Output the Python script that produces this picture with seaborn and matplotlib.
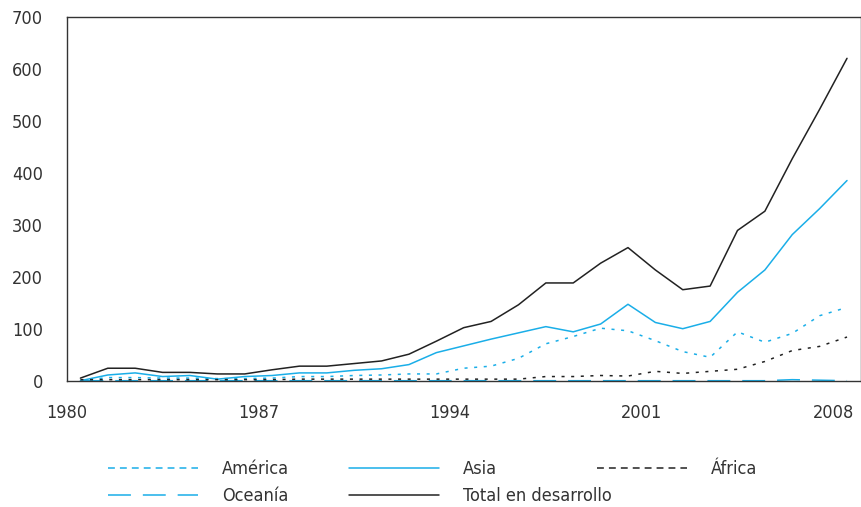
import numpy as np
import pandas as pd
import seaborn as sns
import matplotlib.pyplot as plt
from matplotlib.lines import Line2D

# Datos, años 1980-2008
anios = list(range(1980, 2009))
america = [0, 6, 6, 5, 5, 4, 4, 5, 8, 8, 10, 11, 13, 13, 24, 28, 43, 71, 85, 101, 96, 77, 56, 45, 94, 74, 91, 125, 141]
asia = [0, 11, 15, 8, 10, 3, 8, 10, 15, 15, 20, 23, 31, 54, 67, 80, 92, 104, 94, 109, 147, 112, 100, 114, 170, 213, 281, 331, 385]
africa = [2, 2, 2, 2, 2, 2, 2, 2, 3, 3, 3, 3, 3, 3, 3, 3, 3, 8, 8, 10, 9, 18, 14, 18, 22, 37, 58, 66, 84]
oceania = [0, 0, 0, 0, 0, 0, 0, 0, 0, 0, 0, 0, 0, 0, 0, 0, 0, 0, 0, 0, 0, 0, 0, 0, 0, 0, 2, 1, 0]
total = [5, 24, 24, 16, 16, 13, 13, 21, 28, 28, 33, 38, 51, 76, 102, 114, 146, 188, 188, 226, 256, 213, 175, 182, 289, 326, 427, 522, 620]

df = pd.DataFrame({
    'x': np.array(anios) + 0.5,
    'América': america, 'Oceanía': oceania, 'Asia': asia,
    'Total en desarrollo': total, 'África': africa,
})

azul = '#1aaee8'
negro = '#222222'
punteado = (0, (2.0, 4.3))
guiones = (0, (4.5, 3.3))
# (color, estilo en el gráfico, estilo en la leyenda)
estilos = {
    'América': (azul, punteado, guiones),
    'Oceanía': (azul, (0, (15, 7.8)), (0, (15, 7.8))),
    'Asia': (azul, '-', '-'),
    'Total en desarrollo': (negro, '-', '-'),
    'África': (negro, punteado, guiones),
}

sns.set_style('white')
plt.rcParams['font.family'] = ['DejaVu Sans']
plt.rcParams['font.stretch'] = 'condensed'

fig = plt.figure(figsize=(8.62, 5.07), dpi=100)
ax = fig.add_axes([0.0774, 0.2491, 0.9211, 0.7179])

for nombre, (color, ls, _) in estilos.items():
    sns.lineplot(data=df, x='x', y=nombre, ax=ax, color=color,
                 linestyle=ls, linewidth=1.1)

ax.set_xlim(1980, 2009)
ax.set_ylim(0, 700)
ax.set_xticks([1980, 1987, 1994, 2001, 2008])
ax.set_yticks(range(0, 701, 100))
ax.set_xlabel('')
ax.set_ylabel('')
ax.tick_params(axis='both', direction='in', length=6, width=1, color='#333333',
               labelsize=13, labelcolor='#333333')
ax.tick_params(axis='y', pad=17)
ax.tick_params(axis='x', pad=17)
for s in ax.spines.values():
    s.set_color('#333333')
    s.set_linewidth(1)
    s.set_zorder(5)

# Leyenda en tres columnas separadas
columnas = [(['América', 'Oceanía'], 108), (['Asia', 'Total en desarrollo'], 349), (['África'], 597)]
for nombres, xpix in columnas:
    hs = [Line2D([], [], color=estilos[n][0], linestyle=estilos[n][2], linewidth=1.1) for n in nombres]
    fig.legend(hs, nombres, loc='upper left', bbox_to_anchor=(xpix / 862, 1 - 460 / 507),
               frameon=False, fontsize=13, handlelength=5.0, handletextpad=1.3,
               labelspacing=0.52, borderpad=0, borderaxespad=0,
               labelcolor='#333333')

fig.savefig('out.png', dpi=100)
